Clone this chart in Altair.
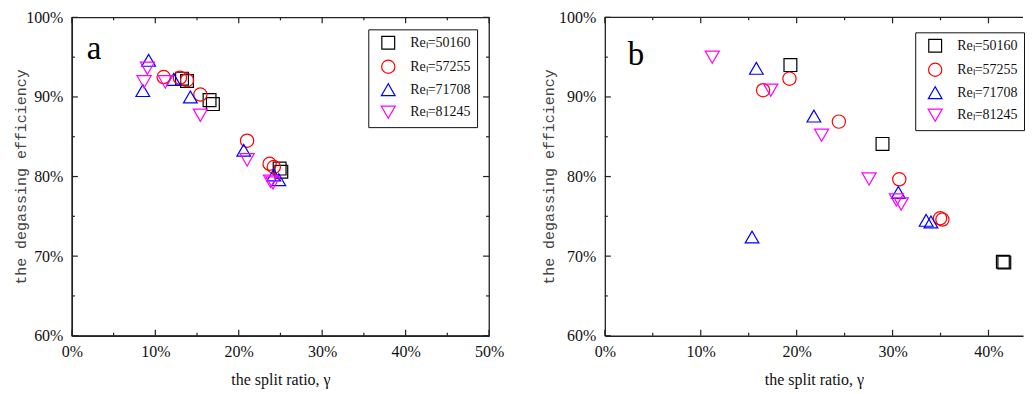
import altair as alt
import pandas as pd

# ---------------- data ----------------
series_names = ["Reₗ=50160", "Reₗ=57255", "Reₗ=71708", "Reₗ=81245"]

# panel a
a_50160_x = [13.2, 13.8, 16.5, 16.9, 24.9, 25.1]
a_50160_y = [92.3, 92.0, 89.6, 89.1, 81.0, 80.6]
a_57255_x = [11.0, 12.95, 13.8, 15.4, 21.0, 23.7, 24.2]
a_57255_y = [92.5, 92.4, 92.1, 90.3, 84.5, 81.6, 81.2]
a_71708_x = [9.2, 8.5, 12.2, 14.2, 20.6, 24.2, 24.8]
a_71708_y = [94.6, 90.8, 92.2, 90.0, 83.3, 80.2, 79.6]
a_81245_x = [9.05, 8.65, 11.2, 15.4, 21.0, 23.8, 24.1]
a_81245_y = [93.6, 91.9, 91.9, 87.7, 82.1, 79.4, 79.2]

# panel b
b_50160_x = [19.35, 28.95, 41.5, 41.65]
b_50160_y = [94.0, 84.1, 69.3, 69.2]
b_57255_x = [16.5, 19.25, 24.4, 30.7, 34.95, 35.2]
b_57255_y = [90.85, 92.3, 86.9, 79.65, 74.75, 74.6]
b_71708_x = [15.8, 21.8, 15.35, 30.6, 33.5, 34.0]
b_71708_y = [93.6, 87.6, 72.4, 78.0, 74.5, 74.3]
b_81245_x = [11.2, 17.3, 22.6, 27.55, 30.4, 30.9]
b_81245_y = [95.0, 90.85, 85.2, 79.7, 77.05, 76.55]

x_ticks_a = [0, 10, 20, 30, 40, 50]
x_ticks_b = [0, 10, 20, 30, 40]
y_ticks = [60, 70, 80, 90, 100]

colors = ["#000000", "#ff0000", "#0000ff", "#ff00ff"]
shapes = ["square", "circle", "triangle-up", "triangle-down"]
sizes = [165, 200, 280, 280]

SERIF = "Liberation Serif"
MONO = "Liberation Mono"
AXC = "#222222"


def make_df(xs, ys):
    rows = []
    for name, xv, yv in zip(series_names, xs, ys):
        for a, b in zip(xv, yv):
            rows.append({"x": a, "y": b, "series": name})
    return pd.DataFrame(rows)


df_a = make_df([a_50160_x, a_57255_x, a_71708_x, a_81245_x],
               [a_50160_y, a_57255_y, a_71708_y, a_81245_y])
df_b = make_df([b_50160_x, b_57255_x, b_71708_x, b_81245_x],
               [b_50160_y, b_57255_y, b_71708_y, b_81245_y])


def panel(df, W, H, xmax, xticks, letter, letter_pos, legend_pos, right_border, title_pad):
    xs = alt.Scale(domain=[0, xmax], nice=False, zero=False)
    ys = alt.Scale(domain=[60, 100], nice=False, zero=False)
    xax = alt.Axis(
        values=xticks, labelExpr="datum.value + '%'", title="the split ratio, γ",
        ticks=False, domainColor=AXC, domainWidth=1.3, labelFont=SERIF,
        labelFontSize=16, labelColor="#111111", labelPadding=8, labelFlush=False,
        titleFont=SERIF, titleFontSize=16, titleFontWeight="normal",
        titleColor="#111111", titlePadding=12, grid=False)
    yax = alt.Axis(
        values=y_ticks, labelExpr="datum.value + '%'",
        title="the degassing efficiency", ticks=False, domainColor=AXC,
        domainWidth=1.3, labelFont=SERIF, labelFontSize=16,
        labelColor="#111111", labelPadding=9, titleFont=MONO,
        titleFontSize=15, titleFontWeight="normal", titleColor="#444444",
        titlePadding=title_pad, grid=False)
    leg = alt.Legend(
        orient="none", legendX=legend_pos[0], legendY=legend_pos[1],
        title=None, strokeColor="#111111", fillColor="white", padding=6,
        labelFont=SERIF, labelFontSize=14, labelColor="#111111",
        symbolSize=180, symbolStrokeWidth=1.2, symbolFillColor="transparent",
        rowPadding=5, labelOffset=14, symbolOffset=6,
    )
    pts = alt.Chart(df).mark_point(filled=False, strokeWidth=1.2, opacity=1).encode(
        x=alt.X("x:Q", scale=xs, axis=xax),
        y=alt.Y("y:Q", scale=ys, axis=yax),
        color=alt.Color("series:N", scale=alt.Scale(domain=series_names, range=colors), legend=leg),
        shape=alt.Shape("series:N", scale=alt.Scale(domain=series_names, range=shapes), legend=leg),
        size=alt.Size("series:N", scale=alt.Scale(domain=series_names, range=sizes), legend=None),
    )

    layers = [pts]
    minor_x = [v for v in range(0, int(xmax) + 1, 5) if v not in xticks]
    minor_y = [65, 75, 85, 95]

    def xrules(vals, y0, y1):
        d = pd.DataFrame({"x": vals})
        return alt.Chart(d).mark_rule(color=AXC, strokeWidth=1.2).encode(
            x=alt.X("x:Q", scale=xs, axis=xax), y=alt.value(y0), y2=alt.value(y1))

    def yrules(vals, x0, x1):
        d = pd.DataFrame({"y": vals})
        return alt.Chart(d).mark_rule(color=AXC, strokeWidth=1.2).encode(
            y=alt.Y("y:Q", scale=ys, axis=yax), x=alt.value(x0), x2=alt.value(x1))

    # inward ticks: bottom, top, left (+ right)
    layers += [xrules(xticks, H, H - 6), xrules(minor_x, H, H - 3),
               xrules(xticks, 0, 6), xrules(minor_x, 0, 3),
               yrules(y_ticks, 0, 6), yrules(minor_y, 0, 3)]
    if right_border:
        layers += [yrules(y_ticks, W, W - 6), yrules(minor_y, W, W - 3)]
    else:
        top = alt.Chart(pd.DataFrame({"k": [0]})).mark_rule(color=AXC, strokeWidth=1.3).encode(
            x=alt.value(0), x2=alt.value(W), y=alt.value(0))
        layers.append(top)

    lab = alt.Chart(pd.DataFrame({"t": [letter]})).mark_text(
        font=SERIF, fontSize=33, align="left", baseline="alphabetic", color="#000000"
    ).encode(text="t:N", x=alt.value(letter_pos[0]), y=alt.value(letter_pos[1]))
    layers.append(lab)

    view = alt.ViewBackground(stroke=AXC if right_border else "transparent", strokeWidth=1.3)
    return alt.layer(*layers).properties(width=W, height=H, view=view)


pa = panel(df_a, 418, 319, 50, x_ticks_a, "a", (15, 42), (297, 12), True, -3)
pb = panel(df_b, 419, 319, 43.6, x_ticks_b, "b", (23, 48), (311, 15), False, 2)

chart = alt.hconcat(pa, pb, spacing=36).resolve_scale(
    color="independent", shape="independent", size="independent"
).resolve_legend(
    color="independent", shape="independent", size="independent"
).properties(
    padding={"left": 5, "top": 0, "right": 0, "bottom": 0}
).configure(background="white")

chart.save("out.html", embed_options={"renderer": "svg", "actions": False})
